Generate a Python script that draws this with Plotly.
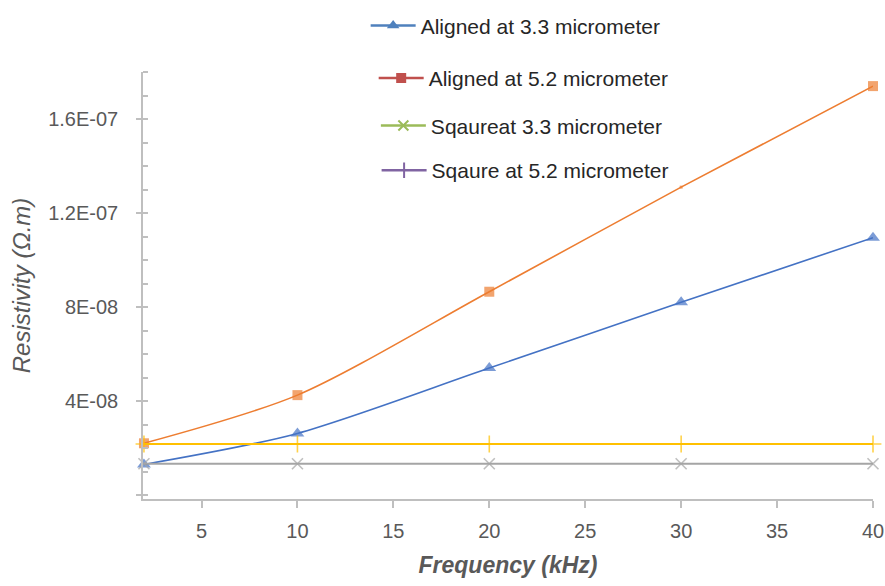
import plotly.graph_objects as go

# Frequency sweep (kHz)
freq_khz = [2, 10, 20, 30, 40]

# Resistivity (ohm.m) for each sample arrangement
aligned_33 = [1.30e-08, 2.62e-08, 5.40e-08, 8.20e-08, 1.095e-07]
aligned_52 = [2.20e-08, 4.25e-08, 8.65e-08, 1.31e-07, 1.74e-07]
square_33 = [1.33e-08, 1.33e-08, 1.33e-08, 1.33e-08, 1.33e-08]
square_52 = [2.17e-08, 2.17e-08, 2.17e-08, 2.17e-08, 2.17e-08]

series_names = [
    "Aligned at 3.3 micrometer",
    "Aligned at 5.2 micrometer",
    "Sqaureat 3.3 micrometer",
    "Sqaure at 5.2 micrometer",
]

y_tick_vals = [0, 4e-08, 8e-08, 1.2e-07, 1.6e-07]
y_tick_text = ["", "4E-08", "8E-08", "1.2E-07", "1.6E-07"]
x_tick_vals = [5, 10, 15, 20, 25, 30, 35, 40]

TICK_GRAY = "#595959"
AXIS_GRAY = "#BFBFBF"

fig = go.Figure()

# Plotted series (drawn in this order so later markers sit on top)
plot_styles = [
    (aligned_33, "#4472C4", "triangle-up", [12, 12, 12, 12, 12], 1.6),
    (aligned_52, "#ED7D31", "square", [10, 10, 10, 3, 10], 1.6),
    (square_33, "#A5A5A5", "x-thin", [11, 11, 11, 11, 11], 2.0),
    (square_52, "#FFC000", "cross-thin", [12, 12, 12, 12, 12], 1.8),
]
for (vals, color, symbol, sizes, lw), name in zip(plot_styles, series_names):
    thin = symbol.endswith("-thin")
    fig.add_trace(go.Scatter(
        x=freq_khz, y=vals, name=name, mode="lines+markers",
        line=dict(color=color, width=lw, shape="spline", smoothing=0.8),
        marker=dict(symbol=symbol, size=sizes, color=color,
                    line=dict(color=color, width=1.6 if thin else 0)),
        showlegend=False, cliponaxis=False,
    ))

# Legend keys, one legend box per entry
legend_styles = [
    ("#4F81BD", "triangle-up", 11),
    ("#C0504D", "square", 10),
    ("#9BBB59", "x-thin", 10),
    ("#8064A2", "line-ns", 11),
]
legend_ids = ["legend", "legend2", "legend3", "legend4"]
for (color, symbol, size), name, lid in zip(legend_styles, series_names, legend_ids):
    thin = symbol.endswith("-thin") or symbol.startswith("line")
    fig.add_trace(go.Scatter(
        x=[None], y=[None], name=name, mode="lines+markers",
        line=dict(color=color, width=2.5),
        marker=dict(symbol=symbol, size=size, color=color,
                    line=dict(color=color, width=2 if thin else 0)),
        legend=lid, showlegend=True,
    ))

legend_font = dict(family="Liberation Sans", size=21, color="#262626")
# (paper x of item start, paper y centre)
legend_pos = [(0.305, 1.108), (0.316, 0.985), (0.319, 0.874), (0.320, 0.769)]
legend_layouts = {}
for lid, (lx, ly) in zip(legend_ids, legend_pos):
    legend_layouts[lid] = dict(
        x=lx, y=ly, xanchor="left", yanchor="middle",
        font=legend_font, bgcolor="rgba(0,0,0,0)", itemwidth=45,
    )

fig.update_layout(
    width=885, height=586,
    margin=dict(l=143, r=12, t=72, b=87, autoexpand=False),
    paper_bgcolor="white", plot_bgcolor="white",
    font=dict(family="Liberation Sans", color=TICK_GRAY),
    xaxis=dict(
        range=[1.95, 40], tickvals=x_tick_vals,
        showline=True, linecolor=AXIS_GRAY, linewidth=1.5,
        ticks="outside", ticklen=7, tickcolor=AXIS_GRAY, tickwidth=1.5,
        tickfont=dict(size=20, color=TICK_GRAY), ticklabelstandoff=6,
        showgrid=False, zeroline=False,
        title=dict(text="<b><i>Frequency (kHz)</i></b>", standoff=16,
                   font=dict(size=23, color=TICK_GRAY)),
    ),
    yaxis=dict(
        range=[-1.7e-09, 1.8e-07], tickvals=y_tick_vals, ticktext=y_tick_text,
        showline=True, linecolor=AXIS_GRAY, linewidth=1.5,
        ticks="outside", ticklen=5, tickcolor=AXIS_GRAY, tickwidth=1.5,
        tickfont=dict(size=20, color=TICK_GRAY), ticklabelstandoff=14,
        minor=dict(dtick=1e-08, tick0=0, ticks="inside", ticklen=5,
                   tickcolor=AXIS_GRAY, tickwidth=1.5),
        showgrid=False, zeroline=False,
        title=dict(text="<i>Resistivity (Ω.m)</i>", standoff=11,
                   font=dict(size=24, color=TICK_GRAY)),
    ),
    **legend_layouts,
)

fig.write_html("out.html")
